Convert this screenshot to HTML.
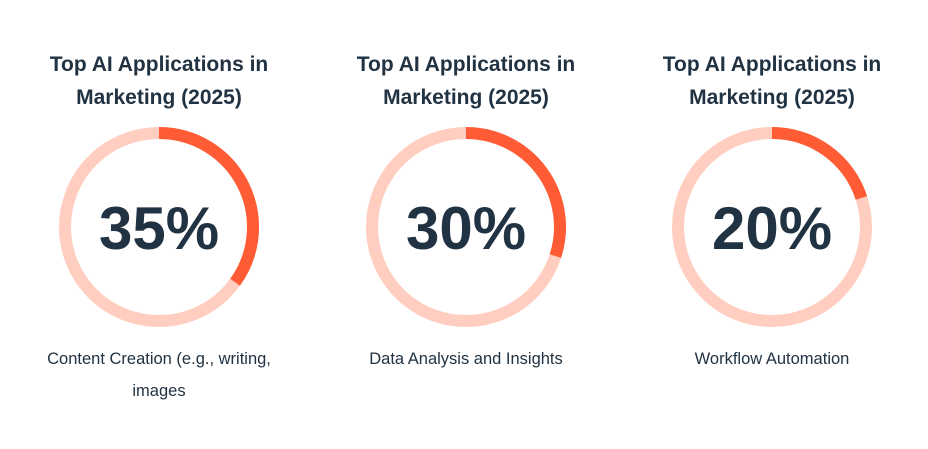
<!DOCTYPE html>
<html><head><meta charset="utf-8"><style>
html,body{margin:0;padding:0;background:#fff;width:928px;height:449px;overflow:hidden}
svg{display:block;font-family:"Liberation Sans",sans-serif}
</style></head><body>
<svg id="chart" width="928" height="449"></svg>
<script>
const categories=["Content Creation (e.g., writing,|images","Data Analysis and Insights","Workflow Automation"];
const values=[35,30,20];
const titles=["Top AI Applications in|Marketing (2025)","Top AI Applications in|Marketing (2025)","Top AI Applications in|Marketing (2025)"];
const svg=document.getElementById('chart');
const NS='http://www.w3.org/2000/svg';
function mk(t,a,txt){const e=document.createElementNS(NS,t);for(const k in a)e.setAttribute(k,a[k]);if(txt!=null)e.textContent=txt;svg.appendChild(e);return e;}
const xs=[159,466,772], cy=227, r=94;
values.forEach((v,i)=>{
  const cx=xs[i];
  titles[i].split('|').forEach((l,j)=>{
    const t=mk('text',{x:cx,y:71+j*33,'text-anchor':'middle','font-size':21,'font-weight':'bold',fill:'#213343'},l);
    
    
  });
  const bg=mk('circle',{cx:cx,cy:cy,r:r,fill:'none',stroke:'#ffcec0','stroke-width':12});
  
  
  const a=v/100*2*Math.PI;
  const x2=cx+r*Math.sin(a), y2=cy-r*Math.cos(a);
  const arc=mk('path',{d:`M${cx} ${cy-r} A${r} ${r} 0 ${v>50?1:0} 1 ${x2} ${y2}`,fill:'none',stroke:'#ff5c35','stroke-width':12});
  
  
  const p=mk('text',{x:cx,y:cy+22,'text-anchor':'middle','font-size':60,'font-weight':'bold',fill:'#213343'},v+'%');
  
  
  categories[i].split('|').forEach((l,j)=>{
    const t=mk('text',{x:cx,y:364+j*32,'text-anchor':'middle','font-size':16.5,fill:'#213343'},l);
    
    
  });
});
</script>
</body></html>
